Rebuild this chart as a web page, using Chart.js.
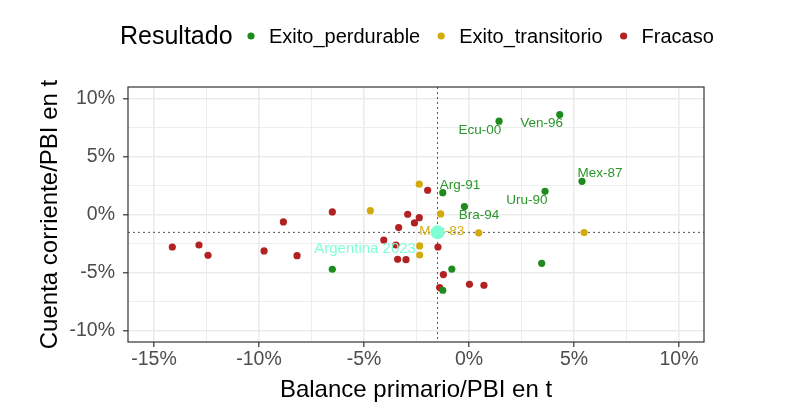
<!DOCTYPE html>
<html>
<head>
<meta charset="utf-8">
<script src="https://cdn.jsdelivr.net/npm/chart.js@4.4.0/dist/chart.umd.min.js"></script>
<style>
  html, body { margin: 0; padding: 0; background: #fff; }
</style>
</head>
<body>
<canvas id="scatterChart" width="790" height="413"></canvas>
<script>
// ---- data (percent of GDP) ----
const groups = ['Exito_perdurable', 'Exito_transitorio', 'Fracaso'];

const perdurableX = [1.43, 4.32, 5.38, 3.62, -1.25, -0.22, -6.51, -0.82, -1.25, 3.46];
const perdurableY = [8.08, 8.65, 2.90, 2.04, 1.92, 0.72, -4.68, -4.66, -6.49, -4.17];

const transitorioX = [-2.37, -4.70, -1.35, 0.46, 5.48, -2.35, -2.35];
const transitorioY = [2.65, 0.37, 0.09, -1.55, -1.52, -2.67, -3.45];

const fracasoX = [-1.97, -6.51, -2.92, -2.37, -2.60, -3.35, -4.06, -3.48, -1.48, -3.40, -3.00,
                  -1.22, -1.40, 0.02, 0.71, -14.13, -12.86, -12.43, -9.76, -8.84, -8.19];
const fracasoY = [2.13, 0.26, 0.06, -0.23, -0.69, -1.09, -2.16, -2.59, -2.76, -3.82, -3.85,
                  -5.14, -6.26, -5.98, -6.06, -2.76, -2.59, -3.48, -3.10, -0.60, -3.51];

const argentinaX = [-1.5];
const argentinaY = [-1.5];

// reference lines (Argentina 2023)
const refX = -1.5;
const refY = -1.5;

// point labels (text, group index, label centre in data units)
const labelText  = ['Ecu-00', 'Ven-96', 'Mex-87', 'Uru-90', 'Arg-91', 'Bra-94', 'Mex-83'];
const labelGroup = [0, 0, 0, 0, 0, 0, 1];
const labelX     = [0.52, 3.46, 6.24, 2.75, -0.43, 0.48, -1.30];
const labelY     = [7.33, 7.90, 3.60, 1.29, 2.59, 0.00, -1.44];
const argLabel   = 'Argentina 2023';
const argLabelX  = -4.95;
const argLabelY  = -2.96;

const pointColors = ['#1f8b1f', '#d4aa0a', '#b22222'];
const textColors = ['#2a972a', '#d6ae14', '#b22222'];
const cyan = '#7fffd4';
const FONT = '"Liberation Sans", Arial, sans-serif';

function toPoints(xs, ys) {
    return xs.map((v, i) => ({x: v, y: ys[i]}));
}

const panelPlugin = {
    id: 'panel',
    beforeDatasetsDraw(chart) {
        const {ctx, chartArea: a, scales: {x, y}} = chart;
        ctx.save();
        // dashed reference lines
        ctx.setLineDash([2, 3]);
        ctx.strokeStyle = '#555';
        ctx.lineWidth = 1;
        const px = x.getPixelForValue(refX);
        const py = y.getPixelForValue(refY);
        ctx.beginPath();
        ctx.moveTo(px, a.top); ctx.lineTo(px, a.bottom);
        ctx.moveTo(a.left, py); ctx.lineTo(a.right, py);
        ctx.stroke();
        ctx.setLineDash([]);
        // country labels
        ctx.font = '13.5px ' + FONT;
        ctx.textAlign = 'center';
        ctx.textBaseline = 'middle';
        labelText.forEach((t, i) => {
            ctx.fillStyle = textColors[labelGroup[i]];
            ctx.fillText(t, x.getPixelForValue(labelX[i]), y.getPixelForValue(labelY[i]));
        });
        ctx.restore();
    },
    afterDatasetsDraw(chart) {
        const {ctx, scales: {x, y}} = chart;
        ctx.save();
        ctx.font = '15px ' + FONT;
        ctx.fillStyle = cyan;
        ctx.textAlign = 'center';
        ctx.textBaseline = 'middle';
        ctx.fillText(argLabel, x.getPixelForValue(argLabelX), y.getPixelForValue(argLabelY));
        ctx.restore();
    },
    afterDraw(chart) {
        const {ctx, chartArea: a} = chart;
        ctx.save();
        // panel border
        ctx.strokeStyle = '#333';
        ctx.lineWidth = 1.2;
        ctx.strokeRect(a.left, a.top, a.right - a.left, a.bottom - a.top);
        // legend
        ctx.textBaseline = 'middle';
        ctx.textAlign = 'left';
        ctx.fillStyle = '#000';
        ctx.font = '25px ' + FONT;
        let cx = 120;
        const cy = 37;
        ctx.fillText('Resultado', cx, cy);
        cx = 251;
        ctx.font = '20px ' + FONT;
        groups.forEach((g, i) => {
            ctx.fillStyle = pointColors[i];
            ctx.beginPath();
            ctx.arc(cx, cy - 1, 3.6, 0, Math.PI * 2);
            ctx.fill();
            ctx.fillStyle = '#000';
            ctx.fillText(g, cx + 18, cy);
            cx += 18 + ctx.measureText(g).width + 21;
        });
        ctx.restore();
    }
};

function gridColor(ctx) {
    return '#ebebeb';
}
function gridWidth(ctx) {
    return ctx.tick && ctx.tick.value % 5 === 0 ? 1.6 : 0.9;
}
function tickColor(ctx) {
    return ctx.tick && ctx.tick.value % 5 === 0 ? '#333' : 'rgba(0,0,0,0)';
}
function pctLabel(v) {
    return v % 5 === 0 ? v + '%' : '';
}

new Chart(document.getElementById('scatterChart'), {
    type: 'scatter',
    data: {
        datasets: [
            {
                label: 'Argentina 2023',
                data: toPoints(argentinaX, argentinaY),
                backgroundColor: cyan,
                borderWidth: 0,
                pointRadius: 7
            },
            {
                label: groups[0],
                data: toPoints(perdurableX, perdurableY),
                backgroundColor: pointColors[0],
                borderWidth: 0,
                pointRadius: 3.6
            },
            {
                label: groups[1],
                data: toPoints(transitorioX, transitorioY),
                backgroundColor: pointColors[1],
                borderWidth: 0,
                pointRadius: 3.6
            },
            {
                label: groups[2],
                data: toPoints(fracasoX, fracasoY),
                backgroundColor: pointColors[2],
                borderWidth: 0,
                pointRadius: 3.6
            }
        ]
    },
    options: {
        responsive: false,
        animation: false,
        layout: {
            padding: {top: 87, right: 86, left: 0, bottom: 0}
        },
        plugins: {
            legend: {display: false},
            tooltip: {enabled: false}
        },
        scales: {
            x: {
                type: 'linear',
                min: -16.24,
                max: 11.19,
                afterFit(scale) { scale.height = 71; },
                border: {display: false},
                grid: {
                    color: gridColor,
                    lineWidth: gridWidth,
                    tickColor: tickColor,
                    tickLength: 5,
                    tickWidth: 1.2
                },
                ticks: {
                    stepSize: 2.5,
                    includeBounds: false,
                    autoSkip: false,
                    maxRotation: 0,
                    padding: 1,
                    color: '#4d4d4d',
                    font: {family: FONT, size: 19.5},
                    callback: pctLabel
                },
                title: {
                    display: true,
                    text: 'Balance primario/PBI en t',
                    color: '#000',
                    font: {family: FONT, size: 24},
                    padding: {top: 0, bottom: 8}
                }
            },
            y: {
                type: 'linear',
                min: -10.95,
                max: 11.03,
                afterFit(scale) { scale.width = 128; },
                border: {display: false},
                grid: {
                    color: gridColor,
                    lineWidth: gridWidth,
                    tickColor: tickColor,
                    tickLength: 5,
                    tickWidth: 1.2
                },
                ticks: {
                    stepSize: 2.5,
                    includeBounds: false,
                    autoSkip: false,
                    padding: 8,
                    color: '#4d4d4d',
                    font: {family: FONT, size: 19.5},
                    callback: pctLabel
                },
                title: {
                    display: true,
                    text: 'Cuenta corriente/PBI en t',
                    color: '#000',
                    font: {family: FONT, size: 24},
                    padding: {top: 36, bottom: 0}
                }
            }
        }
    },
    plugins: [panelPlugin]
});
</script>
</body>
</html>
